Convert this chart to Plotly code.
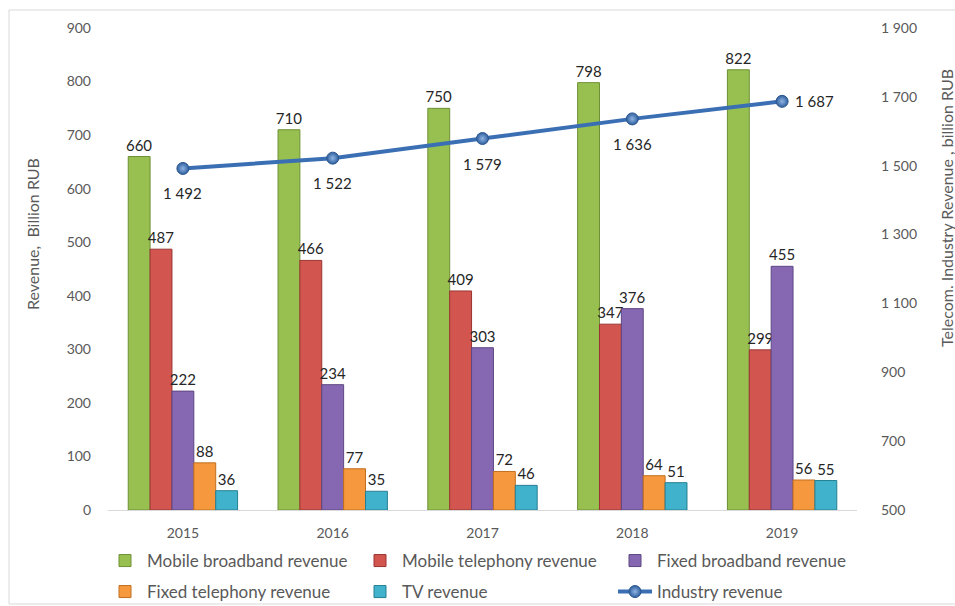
import plotly.graph_objects as go

# Revenue data, billion RUB
years = ["2015", "2016", "2017", "2018", "2019"]
mobile_broadband = [660, 710, 750, 798, 822]
mobile_telephony = [487, 466, 409, 347, 299]
fixed_broadband = [222, 234, 303, 376, 455]
fixed_telephony = [88, 77, 72, 64, 56]
tv_revenue = [36, 35, 46, 51, 55]
industry_revenue = [1492, 1522, 1579, 1636, 1687]

left_ticks = [0, 100, 200, 300, 400, 500, 600, 700, 800, 900]
right_ticks = [500, 700, 900, 1100, 1300, 1500, 1700, 1900]

FONT = "Lato"
TICK_COLOR = "#595959"
LABEL_COLOR = "#262626"

# (name, values, fill, edge, legend row)
bar_series = [
    ("Mobile broadband revenue", mobile_broadband, "#97c051", "#6e8f35", "legend"),
    ("Mobile telephony revenue", mobile_telephony, "#d2564f", "#9a3532", "legend"),
    ("Fixed broadband revenue", fixed_broadband, "#8668b2", "#5e4683", "legend"),
    ("Fixed telephony revenue", fixed_telephony, "#f6993e", "#c06e1e", "legend2"),
    ("TV revenue", tv_revenue, "#40b2cb", "#257f94", "legend2"),
]

fig = go.Figure()

for name, values, color, edge, leg in bar_series:
    fig.add_trace(go.Bar(
        name=name,
        x=years,
        y=values,
        marker=dict(color=color, line=dict(color=edge, width=1)),
        text=values,
        textposition="outside",
        constraintext="none",
        cliponaxis=False,
        textfont=dict(family=FONT, size=15, color=LABEL_COLOR),
        yaxis="y",
        legend=leg,
    ))

fig.add_trace(go.Scatter(
    name="Industry revenue",
    x=years,
    y=industry_revenue,
    yaxis="y2",
    mode="lines+markers",
    line=dict(color="#3b6fb4", width=4),
    marker=dict(size=12, color="#2f5f9e",
                gradient=dict(type="radial", color="#8fb4e3"),
                line=dict(color="#2a558f", width=1)),
    cliponaxis=False,
    legend="legend2",
))

# Value labels for the industry line, placed under each point (last one to the right).
# On a category axis the annotation x is the category's index.
annotations = []
for i, v in enumerate(industry_revenue):
    last = i == len(industry_revenue) - 1
    annotations.append(dict(
        x=i, y=v, xref="x", yref="y2",
        text=f"{v:,}".replace(",", " "),
        showarrow=False,
        xanchor="left" if last else "center",
        yanchor="middle",
        xshift=11 if last else 0,
        yshift=0 if last else -25,
        font=dict(family=FONT, size=15, color=LABEL_COLOR),
    ))

# Layout: plot area spans pixels 108..857 horizontally and 28..510 vertically
W, H = 955, 606
ml, mr, mt, mb = 108, 98, 28, 96
pw, ph = W - ml - mr, H - mt - mb


def px_x(p):
    return (p - ml) / pw


def px_y(p):
    return (H - mb - p) / ph


legend_common = dict(
    orientation="h",
    x=px_x(103),
    xanchor="left",
    yanchor="middle",
    entrywidth=206,
    entrywidthmode="pixels",
    itemwidth=34,
    font=dict(family=FONT, size=17, color=TICK_COLOR),
    bgcolor="rgba(0,0,0,0)",
    tracegroupgap=0,
)

annotations += [
    dict(text="Revenue,  Billion RUB", textangle=-90,
         xref="paper", yref="paper", x=px_x(32), y=px_y(234),
         xanchor="center", yanchor="middle",
         showarrow=False, font=dict(family=FONT, size=16, color=TICK_COLOR)),
    dict(text="Telecom. Industry Revenue , billion RUB", textangle=-90,
         xref="paper", yref="paper", x=px_x(946), y=px_y(208),
         xanchor="center", yanchor="middle",
         showarrow=False, font=dict(family=FONT, size=16, color=TICK_COLOR)),
]

fig.update_layout(
    width=W,
    height=H,
    margin=dict(l=ml, r=mr, t=mt, b=mb, pad=0, autoexpand=False),
    paper_bgcolor="white",
    plot_bgcolor="white",
    separators=". ",
    barmode="group",
    bargap=0.27,
    bargroupgap=0.0,
    font=dict(family=FONT, size=14, color=TICK_COLOR),
    xaxis=dict(
        type="category",
        categoryorder="array",
        categoryarray=years,
        range=[-0.5, len(years) - 0.5],
        autorange=False,
        showgrid=False,
        showline=True,
        linecolor="#d9d9d9",
        linewidth=1,
        ticks="",
        tickfont=dict(family=FONT, size=14, color=TICK_COLOR),
        ticklabelstandoff=10,
    ),
    yaxis=dict(
        range=[0, 900],
        tickvals=left_ticks,
        showgrid=False,
        zeroline=False,
        showline=False,
        ticks="",
        tickfont=dict(family=FONT, size=14, color=TICK_COLOR),
        ticklabelstandoff=16,
    ),
    yaxis2=dict(
        range=[500, 1900],
        tickvals=right_ticks,
        tickformat=",d",
        overlaying="y",
        side="right",
        showgrid=False,
        zeroline=False,
        showline=False,
        ticks="",
        tickfont=dict(family=FONT, size=14, color=TICK_COLOR),
        ticklabelstandoff=23,
    ),
    legend=dict(y=px_y(561), **legend_common),
    legend2=dict(y=px_y(592), **legend_common),
    showlegend=True,
    annotations=annotations,
    shapes=[
        dict(type="rect", xref="paper", yref="paper",
             x0=px_x(9), x1=px_x(960), y0=px_y(604), y1=px_y(10),
             line=dict(color="#d9d9d9", width=1), fillcolor="rgba(0,0,0,0)",
             layer="below"),
    ],
)

fig.write_html("out.html")
